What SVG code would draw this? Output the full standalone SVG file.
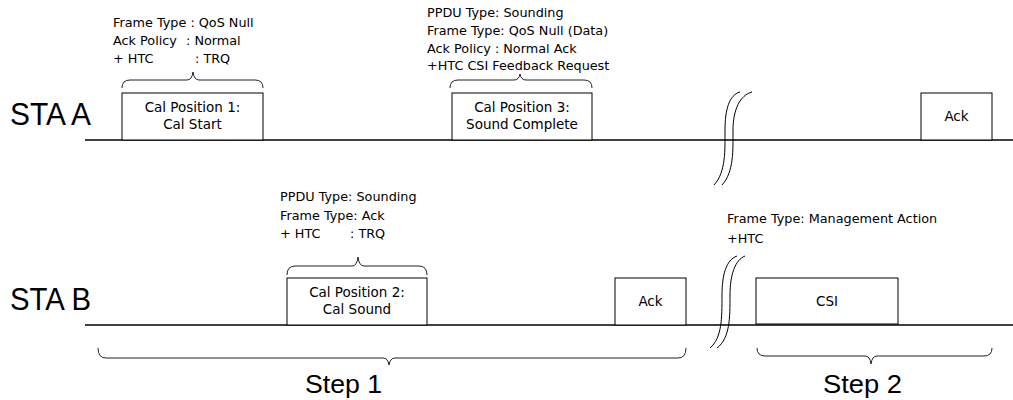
<svg xmlns="http://www.w3.org/2000/svg" width="1013" height="400" viewBox="0 0 1013 400">
<style>
.ann{font-family:"DejaVu Sans","Liberation Sans",sans-serif;font-size:12.8px;fill:#000}
.box{fill:#fff;stroke:#000;stroke-width:1}
.bt{font-family:"DejaVu Sans","Liberation Sans",sans-serif;font-size:13.5px;fill:#000;text-anchor:middle}
.big{font-family:"Liberation Sans",sans-serif;font-size:32px;fill:#000}
.step{font-family:"Liberation Sans",sans-serif;font-size:26px;fill:#000}
.tl{stroke:#000;stroke-width:1.5;fill:none}
.br{stroke:#222;stroke-width:1;fill:none}
.brk{stroke:#000;stroke-width:1;fill:none}
</style>
<rect width="1013" height="400" fill="#fff"/>
<g id="timelines">
<line class="tl" x1="85" y1="140" x2="1013" y2="140"/>
<line class="tl" x1="85" y1="325" x2="1013" y2="325"/>
<text class="big" x="10" y="125" textLength="81" lengthAdjust="spacingAndGlyphs">STA A</text>
<text class="big" x="10" y="310" textLength="81" lengthAdjust="spacingAndGlyphs">STA B</text>
</g>
<g id="breaks">
<path class="brk" d="M740 92 C729 95 725 110 725 130 C725 150 726 172 714 185"/>
<path class="brk" d="M752 92 C740 95 733 110 733 130 C733 150 734 172 722 185"/>
<path class="brk" d="M737 256 C726 260 722 275 722 295 C722 318 722 338 710 348"/>
<path class="brk" d="M745 256 C735 260 730 275 730 295 C730 318 730 338 717 348"/>
</g>
<g id="connectors">
<path class="br" d="M122 88 Q122 80 130 80 L187 80 Q192 80 193 72 Q194 80 199 80 L255 80 Q263 80 263 88"/>
<path class="br" d="M450 88 Q450 80 458 80 L514 80 Q519 80 520 74 Q521 80 526 80 L584 80 Q592 80 592 88"/>
<path class="br" d="M287 275 Q287 266 295 266 L352 266 Q357 266 358 257 Q359 266 364 266 L419 266 Q427 266 427 275"/>
<path class="br" d="M98 348 Q98 358 106 358 L383 358 Q388 358 389 365 Q390 358 395 358 L678 358 Q686 358 686 348"/>
<path class="br" d="M757 348 Q757 356 765 356 L865 356 Q870 356 871 364 Q872 356 877 356 L984 356 Q992 356 992 348"/>
</g>
<g id="note1">
<text class="ann" x="113" y="27">Frame Type : QoS Null</text>
<text class="ann" x="113" y="45">Ack Policy<tspan x="186">: Normal</tspan></text>
<text class="ann" x="113" y="63">+ HTC<tspan x="195">: TRQ</tspan></text>
</g>
<g id="note3">
<text class="ann" x="427" y="17">PPDU Type: Sounding</text>
<text class="ann" x="427" y="35">Frame Type: QoS Null (Data)</text>
<text class="ann" x="427" y="53">Ack Policy : Normal Ack</text>
<text class="ann" x="427" y="70">+HTC CSI Feedback Request</text>
</g>
<g id="note2">
<text class="ann" x="280" y="201">PPDU Type: Sounding</text>
<text class="ann" x="280" y="220">Frame Type: Ack</text>
<text class="ann" x="280" y="238">+ HTC<tspan x="350">: TRQ</tspan></text>
</g>
<g id="note4">
<text class="ann" x="727" y="223">Frame Type: Management Action</text>
<text class="ann" x="727" y="243">+HTC</text>
</g>
<g id="cal1">
<rect class="box" x="122" y="93" width="141" height="47"/>
<text class="bt" x="192.5" y="112">Cal Position 1:</text>
<text class="bt" x="192.5" y="129">Cal Start</text>
</g>
<g id="cal3">
<rect class="box" x="452" y="93" width="140" height="47"/>
<text class="bt" x="522" y="112">Cal Position 3:</text>
<text class="bt" x="522" y="129">Sound Complete</text>
</g>
<g id="ackA">
<rect class="box" x="921" y="93" width="71" height="47"/>
<text class="bt" x="956.5" y="121">Ack</text>
</g>
<g id="cal2">
<rect class="box" x="287" y="278" width="140" height="47"/>
<text class="bt" x="357" y="297">Cal Position 2:</text>
<text class="bt" x="357" y="314">Cal Sound</text>
</g>
<g id="ackB">
<rect class="box" x="615" y="278" width="71" height="47"/>
<text class="bt" x="650.5" y="306">Ack</text>
</g>
<g id="csi">
<rect class="box" x="756" y="278" width="142" height="46"/>
<text class="bt" x="827" y="306">CSI</text>
</g>
<g id="steps">
<text class="step" x="305" y="393" textLength="77" lengthAdjust="spacingAndGlyphs">Step 1</text>
<text class="step" x="823" y="393" textLength="79" lengthAdjust="spacingAndGlyphs">Step 2</text>
</g>
</svg>
